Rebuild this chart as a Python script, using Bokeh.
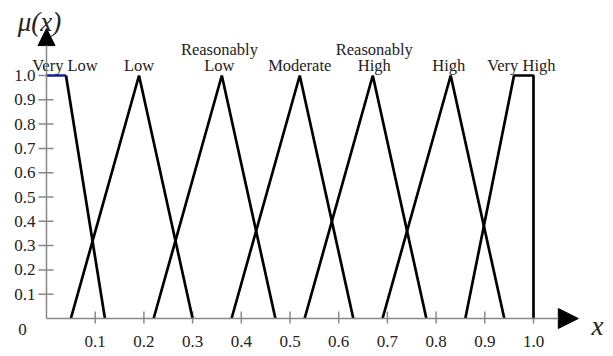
from bokeh.plotting import figure
from bokeh.models import Arrow, NormalHead, Range1d
from bokeh.embed import file_html
from bokeh.resources import INLINE
from bokeh.core.properties import value

# ---- data (membership functions) ----
vl_x = [0.0, 0.04, 0.12]
vl_y = [1.0, 1.0, 0.0]
low_x = [0.05, 0.19, 0.30]
low_y = [0.0, 1.0, 0.0]
rlow_x = [0.22, 0.36, 0.47]
rlow_y = [0.0, 1.0, 0.0]
mod_x = [0.38, 0.52, 0.63]
mod_y = [0.0, 1.0, 0.0]
rhigh_x = [0.53, 0.67, 0.78]
rhigh_y = [0.0, 1.0, 0.0]
high_x = [0.69, 0.83, 0.94]
high_y = [0.0, 1.0, 0.0]
vh_x = [0.86, 0.96, 1.0, 1.0]
vh_y = [0.0, 1.0, 1.0, 0.0]

label_x = [0.038, 0.19, 0.355, 0.52, 0.673, 0.826, 0.975]
label_line2 = ["Very Low", "Low", "Low", "Moderate", "High", "High", "Very High"]
label_line1 = ["", "", "Reasonably", "", "Reasonably", "", ""]

tick_vals = [0.1, 0.2, 0.3, 0.4, 0.5, 0.6, 0.7, 0.8, 0.9, 1.0]
tick_labels = ["0.1", "0.2", "0.3", "0.4", "0.5", "0.6", "0.7", "0.8", "0.9", "1.0"]

# ---- layout ----
W, H = 613, 356
OX, OY = 46, 318        # canvas pixel position of the origin
PX_X = 487.0            # pixels per unit x
PX_Y = 243.0            # pixels per unit y

p = figure(width=W, height=H, output_backend="svg", toolbar_location=None,
           x_range=Range1d(-OX / PX_X, (W - OX) / PX_X),
           y_range=Range1d(-(H - OY) / PX_Y, OY / PX_Y),
           min_border=0)
p.axis.visible = False
p.grid.visible = False
p.outline_line_color = None
p.background_fill_color = "white"
p.border_fill_color = "white"

SERIF = "Liberation Serif"
TXT = "#222222"
GRAY = "#888888"

# axis lines with arrow heads
p.add_layout(Arrow(end=NormalHead(size=17, fill_color="black", line_color="black"),
                   x_start=0, y_start=0, x_end=0, y_end=1.193,
                   line_color=GRAY, line_width=1.5))
p.add_layout(Arrow(end=NormalHead(size=20, fill_color="black", line_color="black"),
                   x_start=0, y_start=0, x_end=1.092, y_end=0,
                   line_color=GRAY, line_width=1.5))

# ticks
n = len(tick_vals)
p.segment(x0=tick_vals, y0=[-5 / PX_Y] * n, x1=tick_vals, y1=[7 / PX_Y] * n,
          line_color=GRAY, line_width=1.5)
p.segment(x0=[-8 / PX_X] * n, y0=tick_vals, x1=[7 / PX_X] * n, y1=tick_vals,
          line_color=GRAY, line_width=1.5)

# tick labels
p.text(x=tick_vals, y=[0] * n, text=tick_labels, y_offset=23,
       text_font=value(SERIF), text_font_size="17px", text_color=TXT,
       text_align="center", text_baseline="middle")
p.text(x=[0] * n, y=tick_vals, text=tick_labels, x_offset=-11,
       text_font=value(SERIF), text_font_size="17px", text_color=TXT,
       text_align="right", text_baseline="middle")
p.text(x=[0], y=[0], text=["0"], x_offset=-24, y_offset=11,
       text_font=value(SERIF), text_font_size="17px", text_color=TXT,
       text_align="center", text_baseline="middle")

# membership functions
LW = 2.7
p.line(vl_x[:2], vl_y[:2], line_color="#1a1aa0", line_width=LW)
p.line(vl_x[1:], vl_y[1:], line_color="black", line_width=LW)
for xs, ys in [(low_x, low_y), (rlow_x, rlow_y), (mod_x, mod_y),
               (rhigh_x, rhigh_y), (high_x, high_y), (vh_x, vh_y)]:
    p.line(xs, ys, line_color="black", line_width=LW)

# set labels
m = len(label_x)
p.text(x=label_x, y=[1.0] * m, text=label_line2, y_offset=-10,
       text_font=value(SERIF), text_font_size="16.5px", text_color=TXT,
       text_align="center", text_baseline="alphabetic")
p.text(x=label_x, y=[1.0] * m, text=label_line1, y_offset=-26.5,
       text_font=value(SERIF), text_font_size="16.5px", text_color=TXT,
       text_align="center", text_baseline="alphabetic")

# axis titles
p.text(x=[0], y=[1.0], text=["μ(x)"], x_offset=-7, y_offset=-54,
       text_font=value(SERIF), text_font_style="italic", text_font_size="27px",
       text_color=TXT, text_align="center", text_baseline="middle")
p.text(x=[1.0], y=[0], text=["x"], x_offset=64, y_offset=7,
       text_font=value(SERIF), text_font_style="italic", text_font_size="27px",
       text_color=TXT, text_align="center", text_baseline="alphabetic")

open("out.html", "w").write(file_html(p, INLINE))
